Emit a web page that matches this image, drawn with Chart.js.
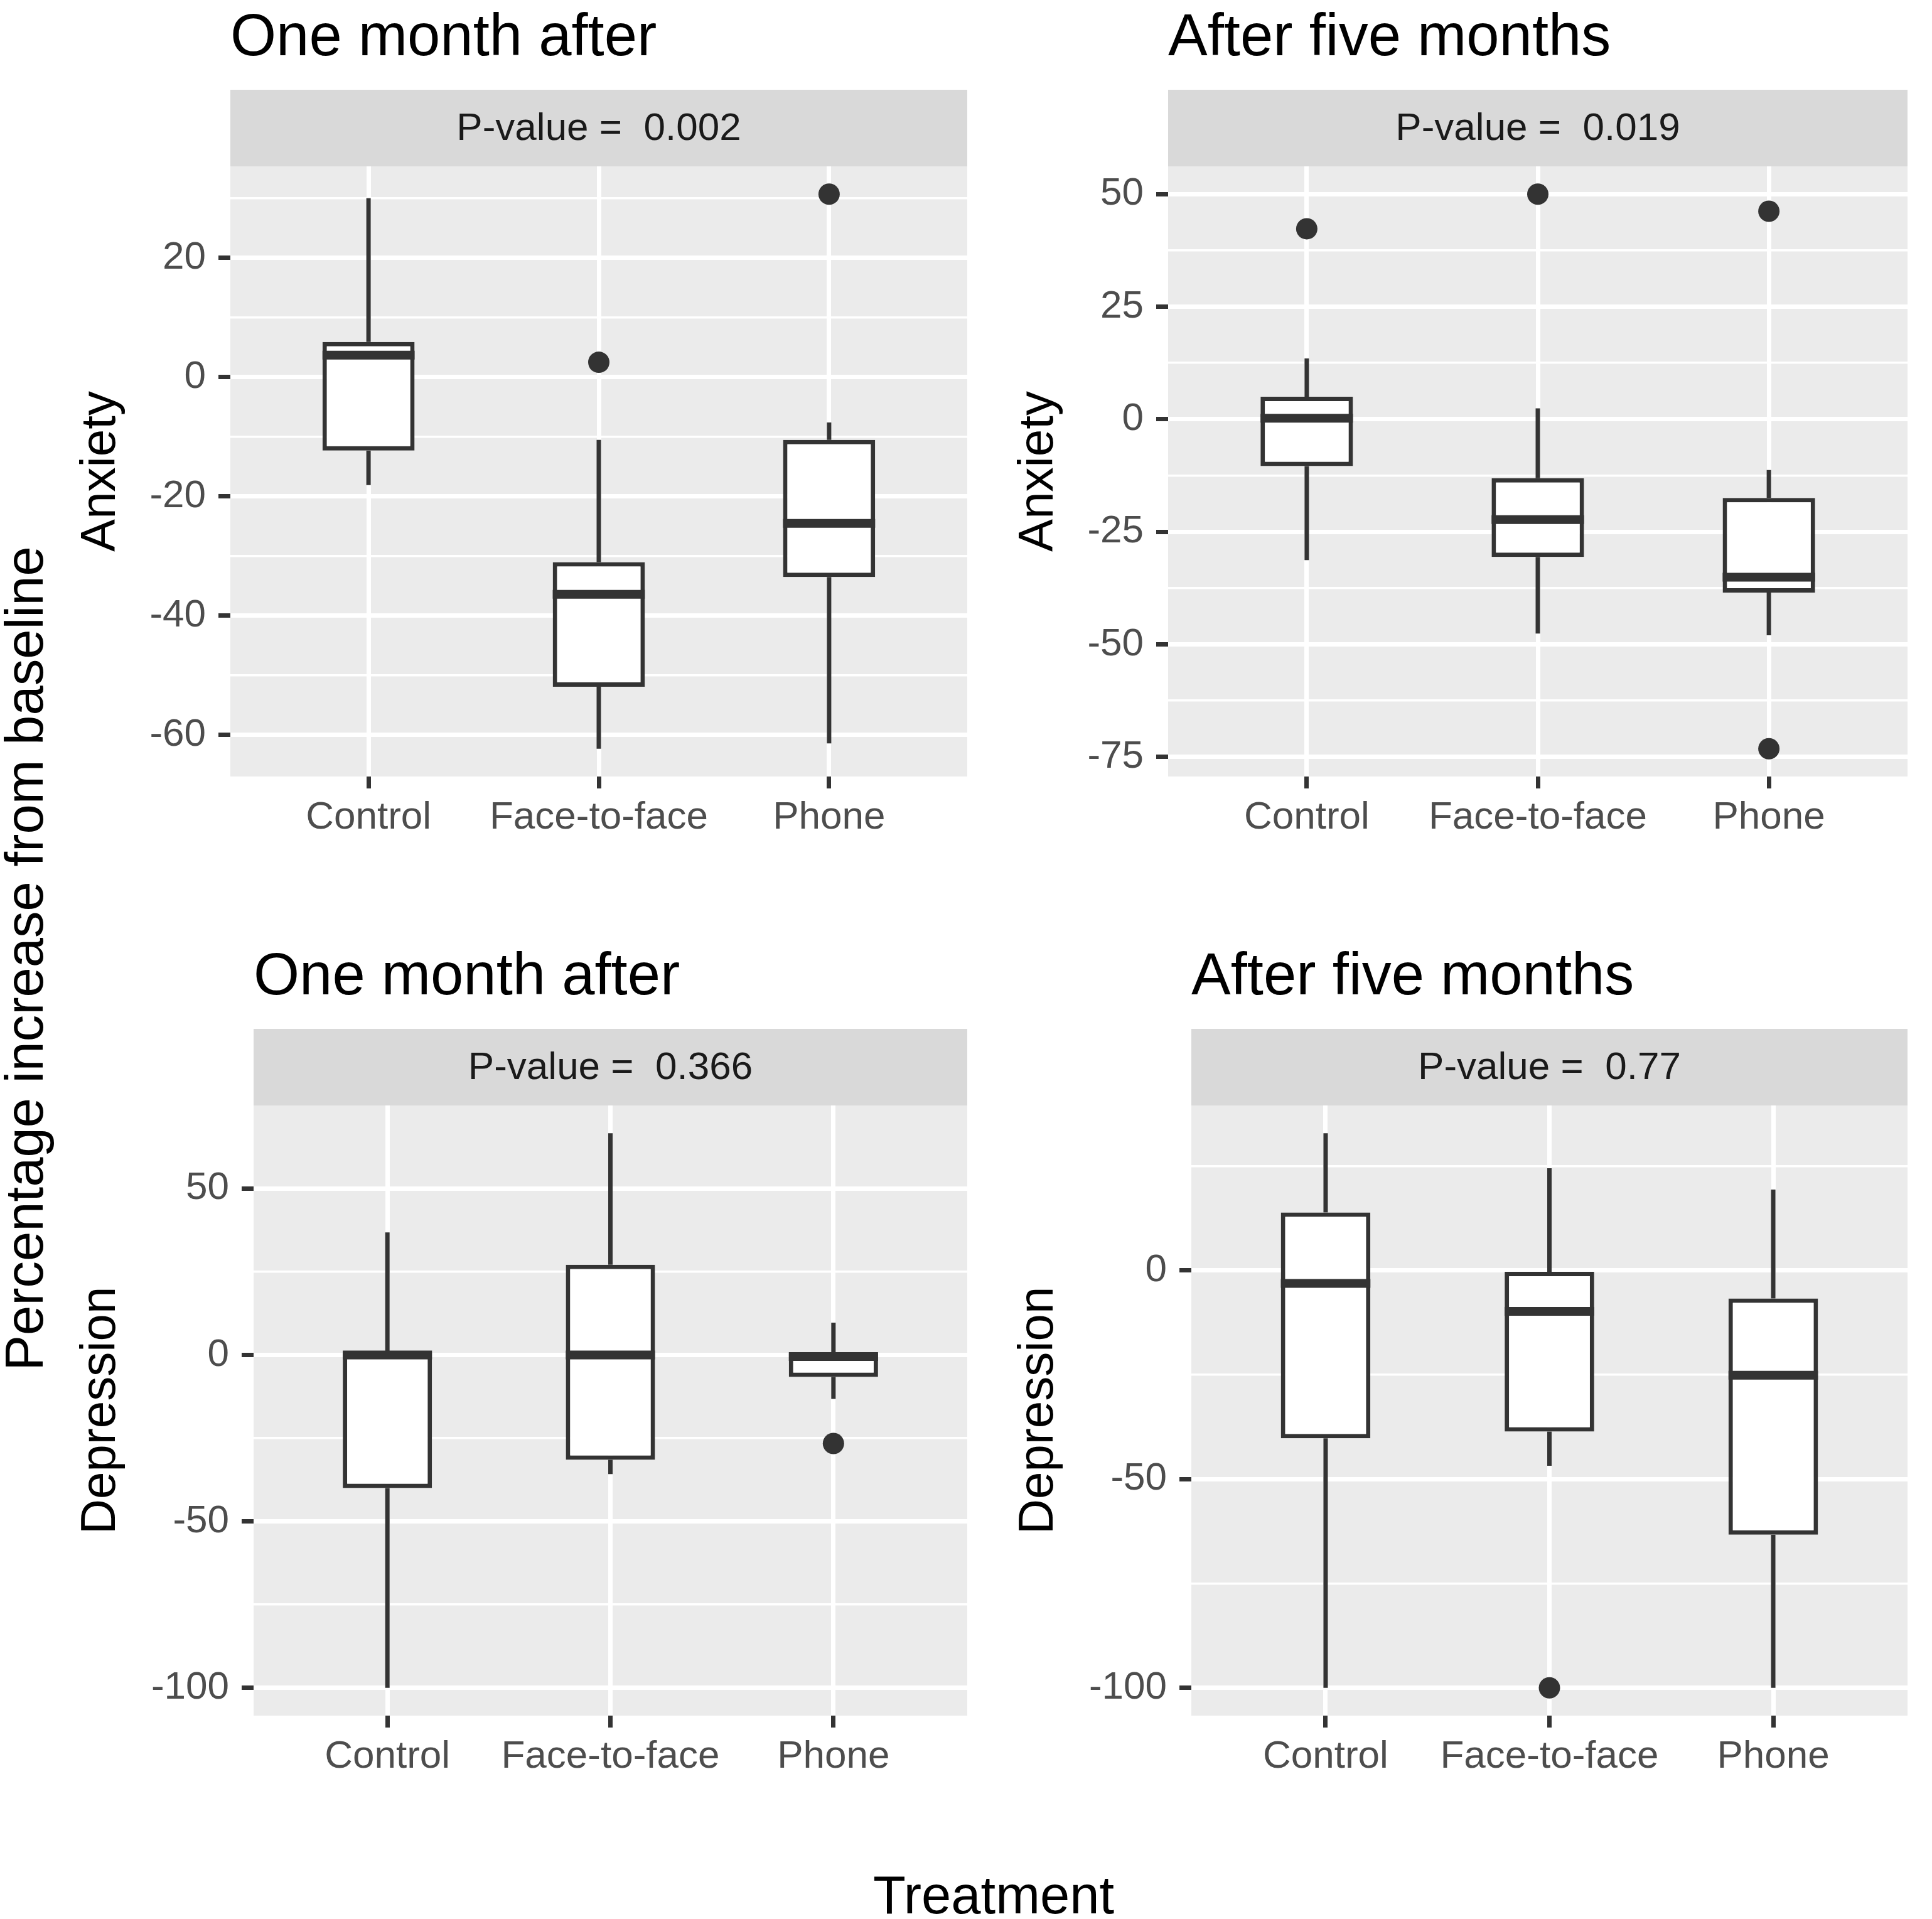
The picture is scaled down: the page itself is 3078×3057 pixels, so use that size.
<!DOCTYPE html>
<html>
<head>
<meta charset="utf-8">
<script src="https://cdn.jsdelivr.net/npm/chart.js@4.4.0/dist/chart.umd.min.js"></script>
<style>
  body { margin: 0; background: #fff; width: 3078px; height: 3057px; position: relative; overflow: hidden;
         font-family: "Liberation Sans", Arial, sans-serif; }
  canvas { position: absolute; }
  .bigtitle { position: absolute; font-size: 85px; color: #000; white-space: nowrap; transform: translate(-50%, -50%); }
  #ylab { left: 39px; top: 1527px; transform: translate(-50%, -50%) rotate(-90deg); }
  #xlab { left: 1583px; top: 3019px; }
</style>
</head>
<body>
<div id="ylab" class="bigtitle">Percentage increase from baseline</div>
<div id="xlab" class="bigtitle">Treatment</div>
<canvas id="c1"></canvas>
<canvas id="c2"></canvas>
<canvas id="c3"></canvas>
<canvas id="c4"></canvas>
<script>
/////////////////////// data //////////////////////////
var categories = ['Control', 'Face-to-face', 'Phone'];

// Anxiety, one month after
var anx1Low = [-18.1, -62.3, -61.4];
var anx1Q1 = [-12.3, -51.9, -33.5];
var anx1Median = [3.7, -36.4, -24.5];
var anx1Q3 = [5.9, -31.0, -10.5];
var anx1High = [30.0, -10.5, -7.6];
var anx1Outliers = [[], [2.5], [30.7]];
var anx1MajorTicks = [-60, -40, -20, 0, 20];
var anx1MinorTicks = [-50, -30, -10, 10, 30];

// Anxiety, after five months
var anx5Low = [-31.3, -47.6, -48.0];
var anx5Q1 = [-10.4, -30.6, -38.5];
var anx5Median = [0.2, -22.3, -35.1];
var anx5Q3 = [5.0, -13.1, -17.5];
var anx5High = [13.5, 2.4, -11.3];
var anx5Outliers = [[42.3], [50.0], [46.2, -73.2]];
var anx5MajorTicks = [-75, -50, -25, 0, 25, 50];
var anx5MinorTicks = [-62.5, -37.5, -12.5, 12.5, 37.5];

// Depression, one month after
var dep1Low = [-100, -35.8, -13.2];
var dep1Q1 = [-40.0, -31.5, -6.6];
var dep1Median = [0.0, 0.0, -0.5];
var dep1Q3 = [0.8, 27.1, 0.5];
var dep1High = [36.8, 66.6, 9.7];
var dep1Outliers = [[], [], [-26.6]];
var dep1MajorTicks = [-100, -50, 0, 50];
var dep1MinorTicks = [-75, -25, 25];

// Depression, after five months
var dep5Low = [-100, -46.8, -100];
var dep5Q1 = [-40.2, -38.6, -63.3];
var dep5Median = [-3.1, -9.8, -25.1];
var dep5Q3 = [13.9, -0.3, -6.7];
var dep5High = [32.9, 24.5, 19.4];
var dep5Outliers = [[], [-100], []];
var dep5MajorTicks = [-100, -50, 0];
var dep5MinorTicks = [-75, -25, 25];

var titles = ['One month after', 'After five months', 'One month after', 'After five months'];
var pValues = ['0.002', '0.019', '0.366', '0.77'];
var yTitles = ['Anxiety', 'Anxiety', 'Depression', 'Depression'];

////////////////////// style ///////////////////////////
var FONT = '"Liberation Sans", Arial, sans-serif';
var INK = '#333333';
var BOX_WIDTH = 0.4;
var LINE_W = 7;
Chart.defaults.font.family = FONT;

// canvas boxes and wanted plot areas (page pixels)
var layouts = [
    { id: 'c1', left: 0, top: 0, width: 1541, height: 1400, area: { left: 367, top: 265, right: 1541, bottom: 1237 }, yTitleX: 161 },
    { id: 'c2', left: 1541, top: 0, width: 1537, height: 1400, area: { left: 1861, top: 265, right: 3039, bottom: 1237 }, yTitleX: 1655 },
    { id: 'c3', left: 0, top: 1400, width: 1541, height: 1500, area: { left: 404, top: 1761, right: 1541, bottom: 2733 }, yTitleX: 161 },
    { id: 'c4', left: 1541, top: 1400, width: 1537, height: 1500, area: { left: 1898, top: 1761, right: 3039, bottom: 2733 }, yTitleX: 1655 }
];

////////////////////// plugin: panel bg, strip, title //////////////
var panelDecor = {
    id: 'panelDecor',
    beforeDraw: function (chart, args, opts) {
        var ctx = chart.ctx;
        var a = chart.chartArea;
        ctx.save();
        ctx.fillStyle = '#ebebeb';
        ctx.fillRect(a.left, a.top, a.right - a.left, a.bottom - a.top);
        // strip
        ctx.fillStyle = '#d9d9d9';
        ctx.fillRect(a.left, a.top - opts.stripHeight, a.right - a.left, opts.stripHeight);
        ctx.fillStyle = '#1a1a1a';
        ctx.font = '62px ' + FONT;
        ctx.textAlign = 'center';
        ctx.textBaseline = 'middle';
        ctx.fillText(opts.strip, (a.left + a.right) / 2, a.top - opts.stripHeight / 2 + 2);
        // panel title
        ctx.fillStyle = '#000';
        ctx.font = '94px ' + FONT;
        ctx.textAlign = 'left';
        ctx.textBaseline = 'alphabetic';
        ctx.fillText(opts.title, a.left, a.top - opts.titleGap);
        ctx.restore();
    }
};

function makePanel(n, low, q1, med, q3, high, outliers, majorTicks, minorTicks) {
    var L = layouts[n];
    var canvas = document.getElementById(L.id);
    canvas.width = L.width;
    canvas.height = L.height;
    canvas.style.left = L.left + 'px';
    canvas.style.top = L.top + 'px';

    // y range like ggplot: data range + 5%
    var all = low.concat(high);
    outliers.forEach(function (o) { all = all.concat(o); });
    var lo = Math.min.apply(null, all);
    var hi = Math.max.apply(null, all);
    var pad = (hi - lo) * 0.05;

    var boxes = categories.map(function (c, i) { return { x: i, y: [q1[i], q3[i]] }; });
    var whiskers = [];
    var medians = [];
    var points = [];
    categories.forEach(function (c, i) {
        whiskers.push({ x: i, y: high[i] }, { x: i, y: q3[i] }, { x: i, y: null });
        whiskers.push({ x: i, y: q1[i] }, { x: i, y: low[i] }, { x: i, y: null });
        medians.push({ x: i - BOX_WIDTH / 2, y: med[i] }, { x: i + BOX_WIDTH / 2, y: med[i] }, { x: i + BOX_WIDTH / 2, y: null });
        outliers[i].forEach(function (v) { points.push({ x: i, y: v }); });
    });

    var yTicks = majorTicks.concat(minorTicks).sort(function (a, b) { return a - b; });
    var isMajor = function (v) { return majorTicks.indexOf(v) >= 0; };
    var yTitleFont = 78;

    return new Chart(canvas, {
        type: 'bar',
        data: {
            datasets: [
                {
                    type: 'scatter', data: points, order: 0,
                    pointRadius: 17, pointBackgroundColor: INK, pointBorderWidth: 0
                },
                {
                    type: 'line', data: medians, order: 1, spanGaps: false,
                    borderColor: INK, borderWidth: LINE_W * 2, borderCapStyle: 'butt', pointRadius: 0, tension: 0
                },
                {
                    type: 'bar', data: boxes, order: 2,
                    backgroundColor: '#ffffff', borderColor: INK, borderWidth: LINE_W, borderSkipped: false,
                    barPercentage: BOX_WIDTH, categoryPercentage: 1
                },
                {
                    type: 'line', data: whiskers, order: 3, spanGaps: false,
                    borderColor: INK, borderWidth: LINE_W, borderCapStyle: 'butt', pointRadius: 0, tension: 0
                }
            ]
        },
        options: {
            responsive: false,
            animation: false,
            events: [],
            layout: {
                autoPadding: false,
                padding: { left: 0, top: L.area.top - L.top, right: L.left + L.width - L.area.right, bottom: 0 }
            },
            plugins: {
                legend: { display: false },
                tooltip: { enabled: false },
                panelDecor: { title: titles[n], strip: 'P-value =  ' + pValues[n], stripHeight: 122, titleGap: 177 }
            },
            scales: {
                x: {
                    type: 'linear', min: -0.6, max: 2.6, bounds: 'data', offset: false,
                    afterBuildTicks: function (axis) { axis.ticks = categories.map(function (c, i) { return { value: i }; }); },
                    afterFit: function (axis) { axis.height = L.top + L.height - L.area.bottom; },
                    ticks: {
                        autoSkip: false, maxRotation: 0, padding: 10, color: '#4d4d4d', font: { size: 62 },
                        callback: function (v) { return categories[v]; }
                    },
                    grid: { color: '#ffffff', lineWidth: LINE_W, tickColor: INK, tickWidth: LINE_W, tickLength: 19, offset: false },
                    border: { display: false }
                },
                y: {
                    type: 'linear', min: lo - pad, max: hi + pad, bounds: 'data',
                    afterBuildTicks: function (axis) { axis.ticks = yTicks.map(function (v) { return { value: v }; }); },
                    afterFit: function (axis) { axis.width = L.area.left - L.left; },
                    ticks: {
                        autoSkip: false, padding: 20, color: '#4d4d4d', font: { size: 62 },
                        callback: function (v) { return isMajor(v) ? String(v) : ''; }
                    },
                    grid: {
                        color: '#ffffff',
                        lineWidth: function (c) { return c.tick && isMajor(c.tick.value) ? LINE_W : LINE_W / 2; },
                        tickColor: INK,
                        tickWidth: function (c) { return c.tick && isMajor(c.tick.value) ? LINE_W : 0; },
                        tickLength: 19
                    },
                    border: { display: false },
                    title: {
                        display: true, text: yTitles[n], color: '#000',
                        font: { size: yTitleFont, lineHeight: 1.2 },
                        padding: { top: L.yTitleX - L.left - yTitleFont * 0.6, bottom: 0 }
                    }
                }
            }
        },
        plugins: [panelDecor]
    });
}

makePanel(0, anx1Low, anx1Q1, anx1Median, anx1Q3, anx1High, anx1Outliers, anx1MajorTicks, anx1MinorTicks);
makePanel(1, anx5Low, anx5Q1, anx5Median, anx5Q3, anx5High, anx5Outliers, anx5MajorTicks, anx5MinorTicks);
makePanel(2, dep1Low, dep1Q1, dep1Median, dep1Q3, dep1High, dep1Outliers, dep1MajorTicks, dep1MinorTicks);
makePanel(3, dep5Low, dep5Q1, dep5Median, dep5Q3, dep5High, dep5Outliers, dep5MajorTicks, dep5MinorTicks);
</script>
</body>
</html>
